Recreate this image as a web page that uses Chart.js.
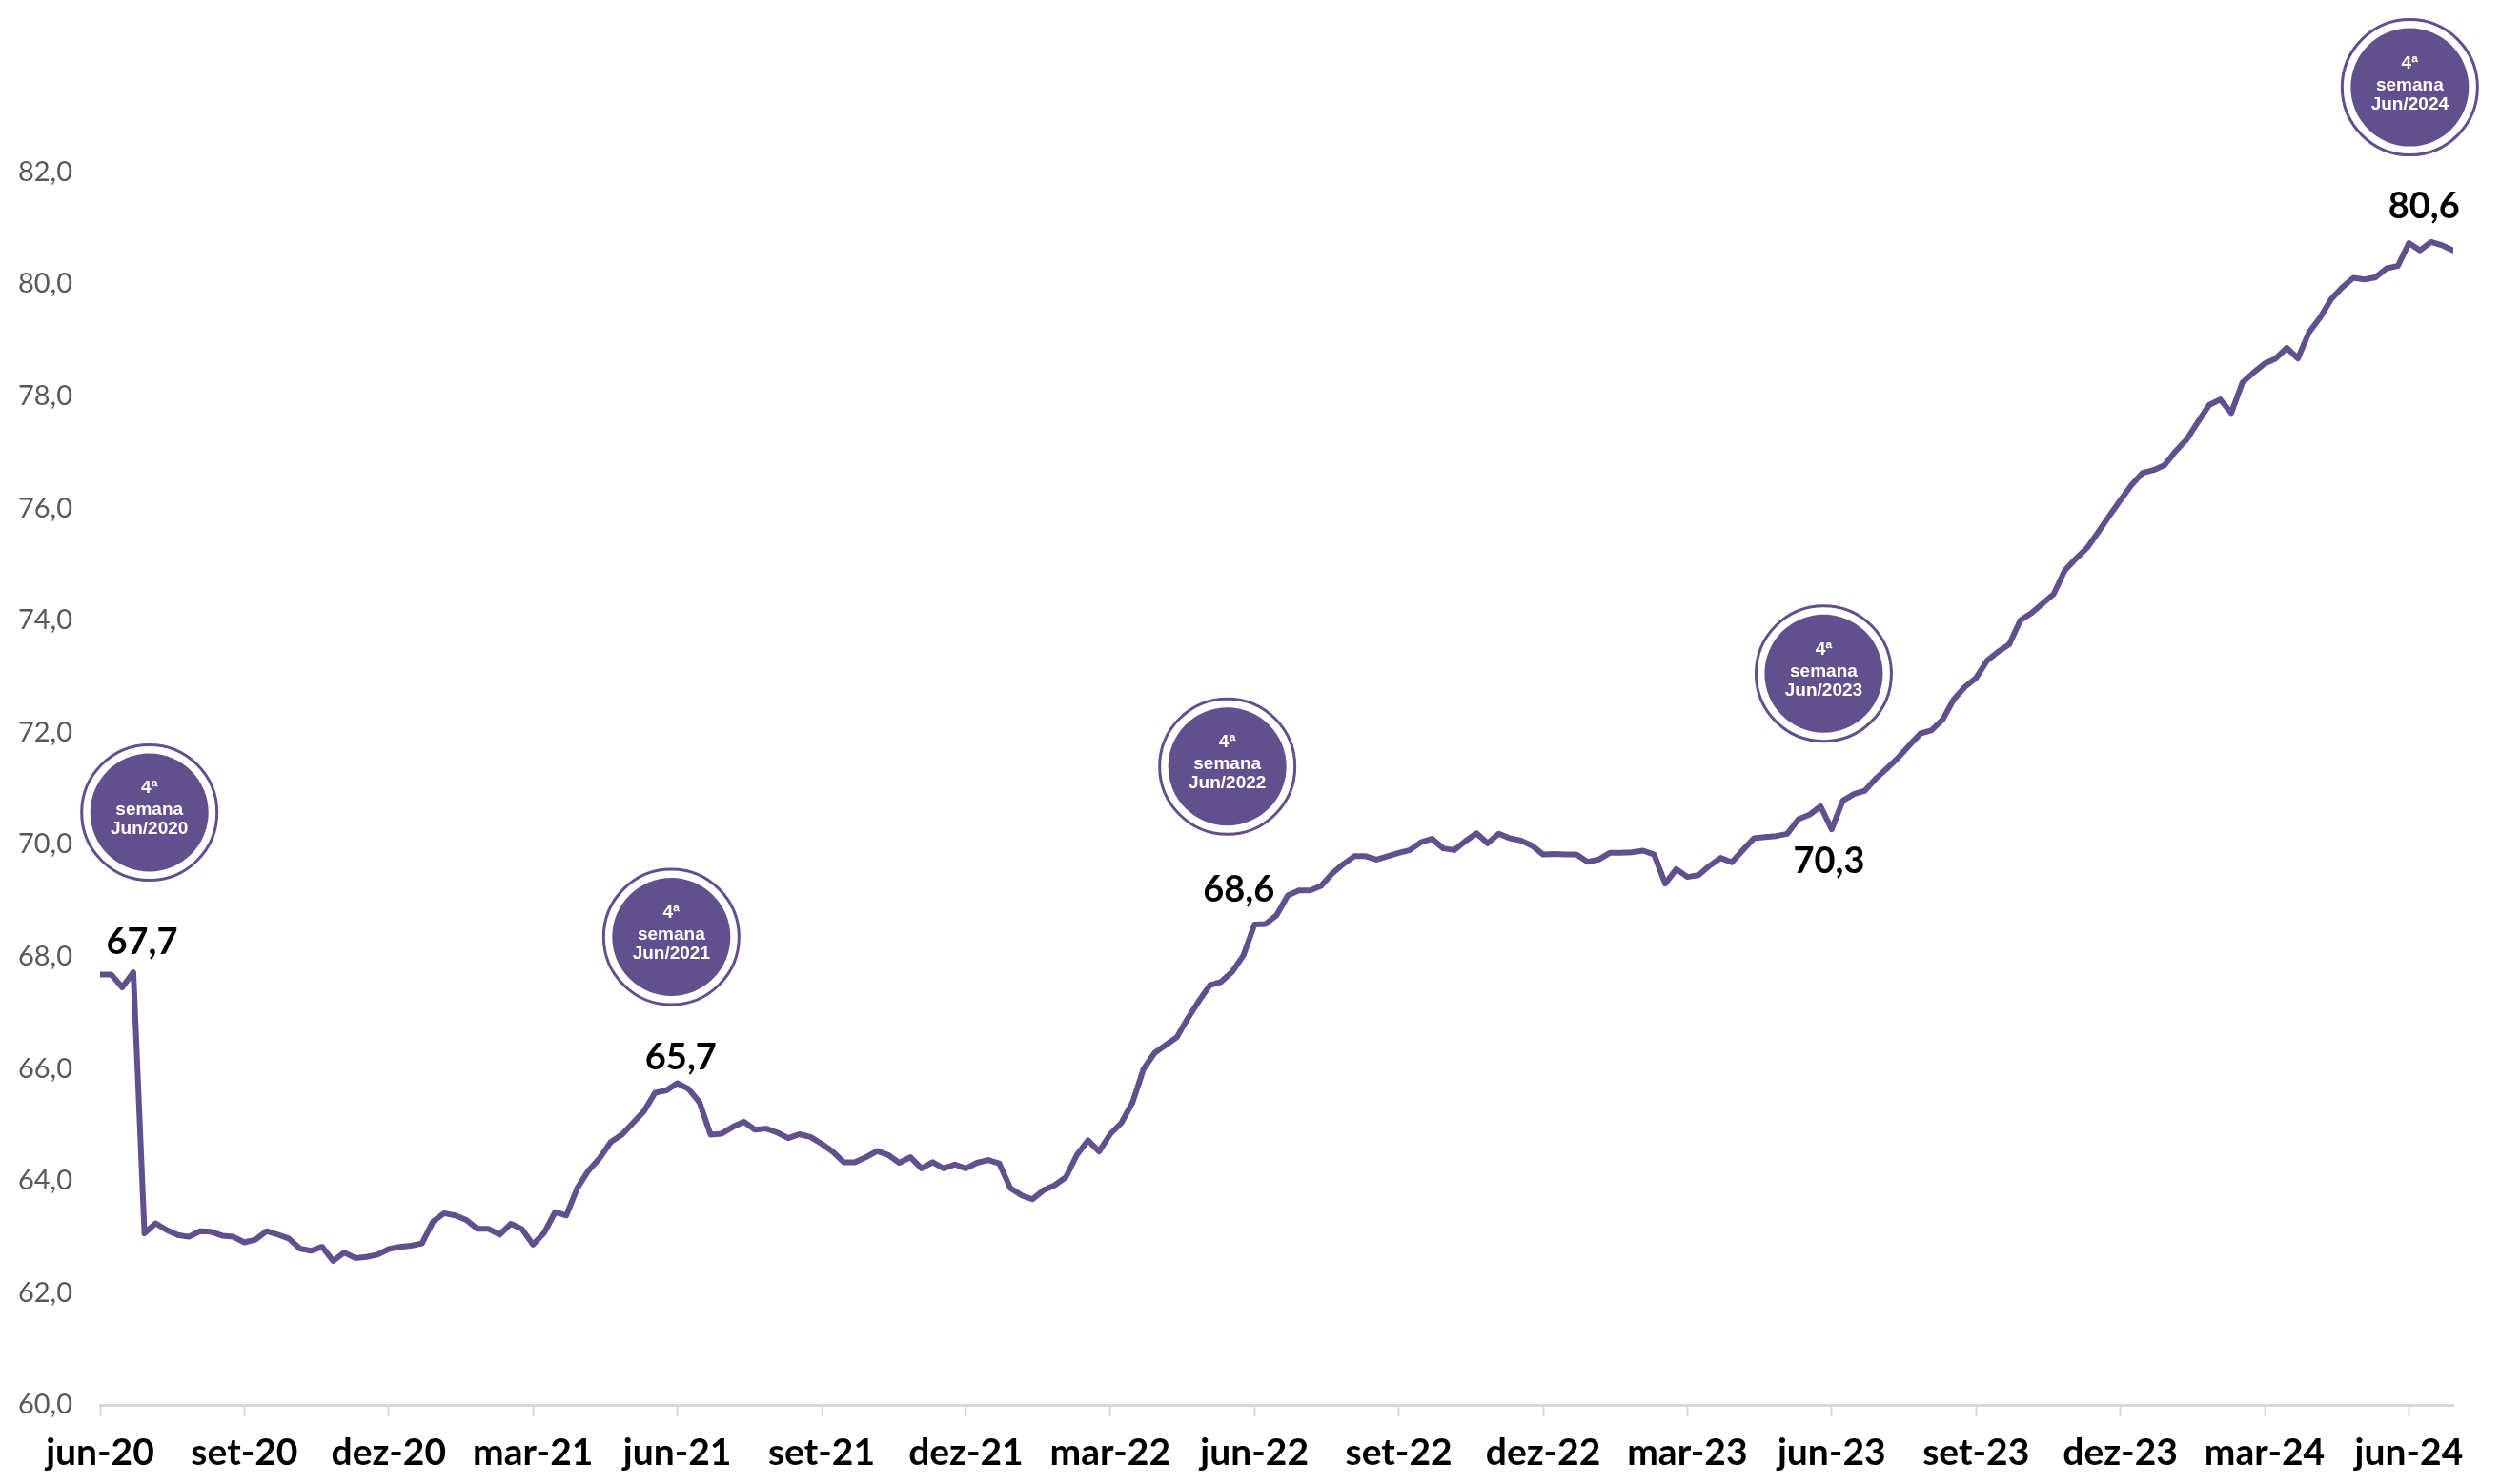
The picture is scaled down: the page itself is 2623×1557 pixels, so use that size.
<!DOCTYPE html>
<html><head><meta charset="utf-8">
<script src="https://cdn.jsdelivr.net/npm/chart.js@4.4.1/dist/chart.umd.min.js"></script>
<style>html,body{margin:0;padding:0;background:#fff;}#wrap{width:2623px;height:1557px;position:relative;}</style>
</head><body><div id="wrap"><canvas id="c"></canvas></div>
<script>
// Quarter tick labels (one every 13 weeks)
const quarterLabels = ['jun-20','set-20','dez-20','mar-21','jun-21','set-21','dez-21','mar-22','jun-22','set-22','dez-22','mar-23','jun-23','set-23','dez-23','mar-24','jun-24'];
const weeksPerQuarter = 13;
const yTickValues = [60,62,64,66,68,70,72,74,76,78,80,82];

// Weekly series (jun/2020 -> 4ª semana jun/2024)
const weeklyValues = [
67.68,67.68,67.45,67.72,63.06,63.24,63.12,63.03,63.00,63.10,
63.09,63.02,63.00,62.90,62.95,63.10,63.04,62.97,62.79,62.75,
62.82,62.57,62.72,62.62,62.64,62.68,62.78,62.82,62.84,62.88,
63.27,63.42,63.38,63.30,63.14,63.14,63.04,63.23,63.14,62.86,
63.07,63.44,63.38,63.87,64.18,64.40,64.69,64.82,65.03,65.24,
65.57,65.61,65.74,65.64,65.40,64.82,64.84,64.96,65.05,64.91,
64.93,64.86,64.76,64.83,64.78,64.66,64.52,64.33,64.33,64.42,
64.53,64.46,64.32,64.42,64.22,64.33,64.22,64.29,64.22,64.32,
64.37,64.31,63.87,63.74,63.67,63.83,63.92,64.06,64.46,64.72,
64.52,64.83,65.03,65.39,65.99,66.28,66.42,66.56,66.90,67.21,
67.49,67.55,67.73,68.02,68.57,68.58,68.74,69.09,69.18,69.18,
69.26,69.48,69.65,69.79,69.79,69.73,69.79,69.85,69.90,70.04,
70.10,69.93,69.90,70.06,70.20,70.02,70.19,70.11,70.07,69.98,
69.82,69.83,69.82,69.82,69.69,69.73,69.85,69.85,69.86,69.89,
69.82,69.30,69.56,69.42,69.45,69.62,69.76,69.68,69.90,70.11,
70.13,70.15,70.19,70.45,70.53,70.68,70.27,70.78,70.90,70.96,
71.18,71.36,71.55,71.77,71.98,72.04,72.23,72.59,72.81,72.97,
73.28,73.44,73.57,74.00,74.13,74.30,74.47,74.89,75.10,75.29,
75.57,75.86,76.14,76.41,76.63,76.68,76.77,77.02,77.23,77.54,
77.84,77.94,77.70,78.24,78.42,78.58,78.67,78.86,78.67,79.14,
79.40,79.73,79.94,80.11,80.08,80.12,80.28,80.32,80.73,80.60,
80.75,80.69,80.60
];

// Highlighted values and week badges
const valueLabels = ['67,7','65,7','68,6','70,3','80,6'];
const badgeTexts = ['Jun/2020','Jun/2021','Jun/2022','Jun/2023','Jun/2024'];

// Annotation anchors (in chart value space: week index, value)
const valueLabelAnchors = [[3.78,68.27],[52.32,66.21],[102.58,69.21],[155.76,69.72],[209.36,81.40]];
const badgeAnchors = [[4.44,70.57],[51.46,68.35],[101.55,71.39],[155.28,73.05],[208.08,83.51]];

const PURPLE = '#61508d';

const annotate = {
  id: 'annotate',
  afterDatasetsDraw(chart) {
    const {ctx} = chart;
    const xs = chart.scales.x, ys = chart.scales.y;
    ctx.save();
    badgeAnchors.forEach((a, k) => {
      const cx = xs.getPixelForValue(a[0]), cy = ys.getPixelForValue(a[1]);
      ctx.beginPath(); ctx.arc(cx, cy, 71, 0, Math.PI * 2);
      ctx.lineWidth = 3; ctx.strokeStyle = PURPLE; ctx.stroke();
      ctx.beginPath(); ctx.arc(cx, cy, 62, 0, Math.PI * 2);
      ctx.fillStyle = PURPLE; ctx.fill();
      ctx.fillStyle = '#ffffff';
      ctx.font = 'bold 19px "Liberation Sans", Arial, sans-serif';
      ctx.textAlign = 'center'; ctx.textBaseline = 'alphabetic';
      ctx.fillText('4ª', cx, cy - 20);
      ctx.fillText('semana', cx, cy + 3);
      ctx.fillText(badgeTexts[k], cx, cy + 23);
    });
    valueLabelAnchors.forEach((a, k) => {
      const px = xs.getPixelForValue(a[0]), py = ys.getPixelForValue(a[1]);
      ctx.font = 'bold 38px Lato, sans-serif';
      ctx.fillStyle = '#000000';
      ctx.textAlign = 'center'; ctx.textBaseline = 'alphabetic';
      ctx.fillText(valueLabels[k], px, py + 13.5);
    });
    ctx.restore();
  }
};

new Chart(document.getElementById('c'), {
  type: 'line',
  data: {
    datasets: [{
      data: weeklyValues.map((v, i) => ({x: i, y: v})),
      borderColor: PURPLE,
      borderWidth: 6,
      pointRadius: 0,
      tension: 0,
      borderJoinStyle: 'round',
      borderCapStyle: 'round',
      fill: false
    }]
  },
  options: {
    responsive: true,
    maintainAspectRatio: false,
    devicePixelRatio: 1,
    animation: false,
    layout: {padding: {left: 0, right: 49, top: 4, bottom: 0}},
    plugins: {legend: {display: false}, tooltip: {enabled: false}},
    scales: {
      x: {
        type: 'linear',
        min: 0,
        max: weeklyValues.length - 1,
        afterBuildTicks: s => { s.ticks = quarterLabels.map((_, k) => ({value: k * weeksPerQuarter})); },
        afterFit: s => { s.height = 83; s.paddingLeft = 0; s.paddingRight = 0; s.paddingTop = 0; s.paddingBottom = 0; },
        ticks: {
          autoSkip: false, maxRotation: 0, minRotation: 0,
          padding: 15,
          color: '#000000',
          font: {family: 'Lato', size: 39, weight: 'bold'},
          callback: (v, i) => quarterLabels[i]
        },
        grid: {display: true, drawOnChartArea: false, drawTicks: true, tickLength: 12, tickColor: '#d9d9d9', tickWidth: 2},
        border: {display: true, color: '#d9d9d9', width: 3}
      },
      y: {
        type: 'linear',
        min: 60,
        max: 85,
        afterBuildTicks: s => { s.ticks = yTickValues.map(v => ({value: v})); },
        afterFit: s => { s.width = 105; s.paddingTop = 0; s.paddingBottom = 0; s.paddingLeft = 0; s.paddingRight = 0; },
        ticks: {
          padding: 29,
          color: '#595959',
          font: {family: 'Lato', size: 29},
          callback: v => v.toFixed(1).replace('.', ',')
        },
        grid: {display: false, drawTicks: false},
        border: {display: false}
      }
    }
  },
  plugins: [annotate]
});
</script>
</body></html>
